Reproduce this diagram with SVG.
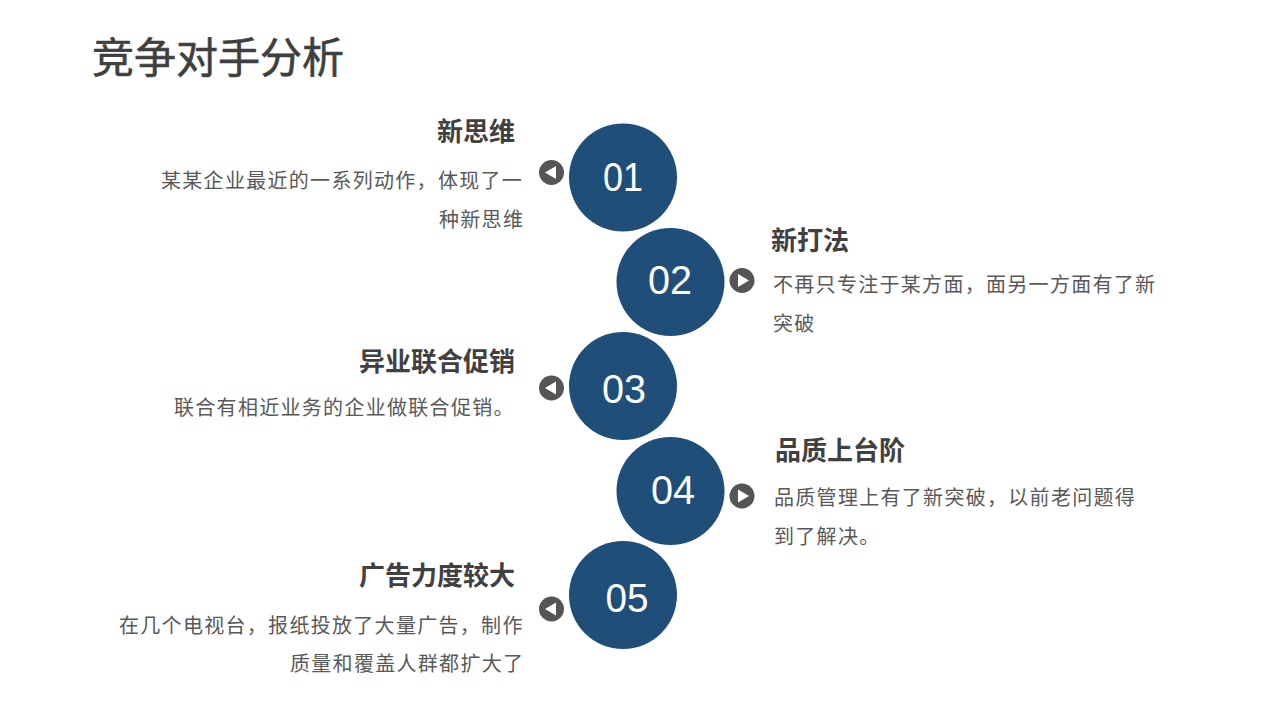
<svg xmlns="http://www.w3.org/2000/svg" width="1280" height="720" viewBox="0 0 1280 720">
<defs>
<style>
.t{font-family:"Noto Sans CJK SC","Liberation Sans",sans-serif;fill:#3f3f3f}
.title{font-size:42px;stroke:#3f3f3f;stroke-width:0.6px}
.h{font-size:26px;font-weight:bold;fill:#404040}
.b{font-size:20px;letter-spacing:1.3px;fill:#595959}
.c{fill:#1f4e79}
.n{font-family:"Liberation Sans",Arial,sans-serif;font-size:41px;fill:#ffffff;text-anchor:middle}
.btn{fill:#555555}
.tri{fill:#ffffff}
</style>
</defs>
<rect width="1280" height="720" fill="#ffffff"/>
<text class="t title" x="92" y="73">竞争对手分析</text>

<g id="node-01">
<circle class="c" cx="623" cy="177.5" r="54"/>
<text class="n" x="623" y="191" textLength="40" lengthAdjust="spacingAndGlyphs">01</text>
<circle class="btn" cx="551.5" cy="172.5" r="12.5"/>
<polygon class="tri" points="545,172.5 556,166 556,179"/>
<text class="t h" x="515" y="141" text-anchor="end">新思维</text>
<text class="t b" x="161" y="188">某某企业最近的一系列动作，体现了一</text>
<text class="t b" x="439" y="227">种新思维</text>
</g>

<g id="node-02">
<circle class="c" cx="670.5" cy="282" r="54"/>
<text class="n" x="670" y="294" textLength="44" lengthAdjust="spacingAndGlyphs">02</text>
<circle class="btn" cx="742" cy="280.5" r="12.5"/>
<polygon class="tri" points="749,280.5 738,274 738,287"/>
<text class="t h" x="771" y="250">新打法</text>
<text class="t b" x="773" y="292">不再只专注于某方面，面另一方面有了新</text>
<text class="t b" x="773" y="331">突破</text>
</g>

<g id="node-03">
<circle class="c" cx="623" cy="386" r="54"/>
<text class="n" x="624" y="403" textLength="44" lengthAdjust="spacingAndGlyphs">03</text>
<circle class="btn" cx="551.5" cy="388" r="12.5"/>
<polygon class="tri" points="545,388 556,381.5 556,394.5"/>
<text class="t h" x="515" y="371" text-anchor="end">异业联合促销</text>
<text class="t b" x="174" y="415">联合有相近业务的企业做联合促销。</text>
</g>

<g id="node-04">
<circle class="c" cx="670.5" cy="491" r="54"/>
<text class="n" x="673" y="504" textLength="44" lengthAdjust="spacingAndGlyphs">04</text>
<circle class="btn" cx="742" cy="496" r="12.5"/>
<polygon class="tri" points="749,496 738,489.5 738,502.5"/>
<text class="t h" x="775" y="460">品质上台阶</text>
<text class="t b" x="774" y="505">品质管理上有了新突破，以前老问题得</text>
<text class="t b" x="774" y="544">到了解决。</text>
</g>

<g id="node-05">
<circle class="c" cx="623" cy="595" r="54"/>
<text class="n" x="627" y="612" textLength="43" lengthAdjust="spacingAndGlyphs">05</text>
<circle class="btn" cx="551.5" cy="609" r="12.5"/>
<polygon class="tri" points="545,609 556,602.5 556,615.5"/>
<text class="t h" x="515" y="585" text-anchor="end">广告力度较大</text>
<text class="t b" x="119" y="633">在几个电视台，报纸投放了大量广告，制作</text>
<text class="t b" x="290" y="671">质量和覆盖人群都扩大了</text>
</g>

<g id="connectors"></g>
</svg>
